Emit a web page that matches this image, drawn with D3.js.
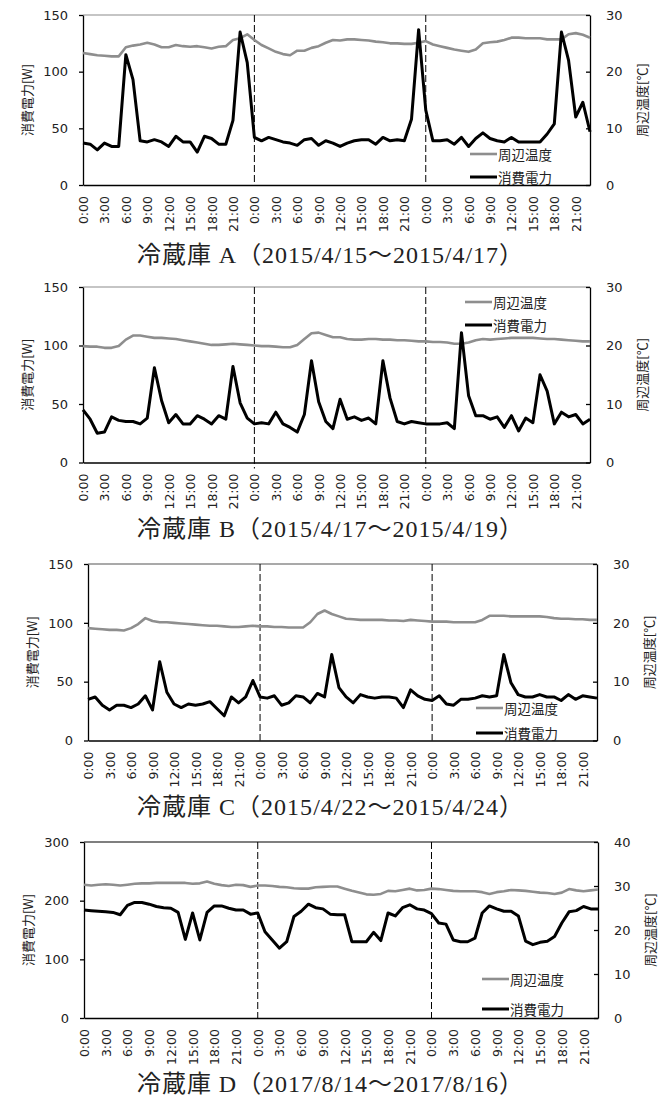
<!DOCTYPE html>
<html>
<head>
<meta charset="utf-8">
<script src="https://cdn.jsdelivr.net/npm/d3@7"></script>
<style>
  body { margin: 0; background: #fff; }
  text { fill: #222; }
</style>
</head>
<body>
<div id="chart-area"></div>
<script>
// hour labels for one day (every 3 h), 3 days per panel
const tickLabels = ['0:00','3:00','6:00','9:00','12:00','15:00','18:00','21:00']
const seriesNames = ['周辺温度','消費電力']

// 冷蔵庫A 2015/4/15-4/17
const powerA = [37,36,31,37,34,34,115,93,39,38,40,38,34,43,38,38,29,43,41,36,36,57,135,108,
  42,39,42,40,38,37,35,40,41,35,39,37,34,37,39,40,40,36,42,39,40,39,58,137,
  66,39,39,40,36,42,34,41,46,41,39,38,42,38,38,38,38,45,54,135,110,60,73,47]
const tempA = [23.3,23.1,22.9,22.8,22.7,22.7,24.3,24.6,24.8,25.1,24.8,24.3,24.3,24.7,24.5,24.4,24.5,24.3,24.1,24.4,24.5,25.6,25.9,26.6,
  25.6,24.7,24.1,23.5,23.1,22.9,23.7,23.7,24.2,24.5,25.1,25.6,25.5,25.7,25.7,25.6,25.5,25.3,25.2,25.0,25.0,24.9,24.9,25.1,
  25.4,24.8,24.5,24.2,23.9,23.7,23.5,23.9,25.0,25.2,25.3,25.6,26.0,26.0,25.9,25.9,25.9,25.7,25.7,25.7,26.6,26.8,26.5,26.0]

// 冷蔵庫B 2015/4/17-4/19
const powerB = [45,37,25,26,39,36,35,35,33,38,81,53,34,41,33,33,40,37,33,40,37,82,51,38,
  33,34,33,43,33,30,26,41,87,52,35,29,54,37,39,36,38,33,87,55,35,33,35,34,
  33,33,33,34,29,111,57,40,40,37,39,30,40,27,38,34,75,61,33,43,39,41,33,37]
const tempB = [19.9,19.8,19.8,19.6,19.6,19.9,21.0,21.7,21.7,21.5,21.3,21.3,21.2,21.1,20.9,20.7,20.5,20.3,20.1,20.1,20.2,20.3,20.2,20.1,
  20.0,19.9,19.9,19.8,19.7,19.7,20.1,21.1,22.1,22.2,21.8,21.4,21.4,21.1,21.0,21.0,21.1,21.1,21.0,21.0,20.9,20.9,20.8,20.7,
  20.7,20.6,20.6,20.5,20.3,20.3,20.5,20.9,21.1,21.0,21.1,21.2,21.3,21.3,21.3,21.3,21.2,21.1,21.1,21.0,20.9,20.8,20.7,20.7]

// 冷蔵庫C 2015/4/22-4/24
const powerC = [35,37,30,26,30,30,28,31,38,26,67,41,31,28,31,30,31,33,27,21,37,32,37,51,
  37,36,38,30,32,38,37,32,40,37,73,45,37,32,39,37,36,37,37,36,28,43,38,35,
  34,38,31,30,35,35,36,38,37,38,73,49,39,37,37,39,37,37,34,39,35,38,37,36]
const tempC = [19.1,19.0,18.9,18.8,18.8,18.7,19.1,19.8,20.8,20.3,20.1,20.1,20.0,19.9,19.8,19.7,19.6,19.5,19.5,19.4,19.3,19.3,19.4,19.5,
  19.4,19.4,19.3,19.3,19.2,19.2,19.2,20.1,21.5,22.1,21.5,21.1,20.7,20.6,20.5,20.5,20.5,20.5,20.4,20.4,20.3,20.5,20.4,20.3,
  20.2,20.2,20.2,20.1,20.1,20.1,20.1,20.5,21.2,21.2,21.2,21.1,21.1,21.1,21.1,21.1,21.0,20.8,20.7,20.7,20.6,20.6,20.5,20.5]

// 冷蔵庫D 2017/8/14-8/16
const powerD = [184,183,182,181,180,176,192,197,197,194,190,188,187,180,134,179,133,180,191,191,187,184,184,177,
  179,147,133,119,130,173,182,194,188,186,177,176,176,130,130,130,146,132,179,174,188,193,186,184,
  178,162,160,133,130,130,136,179,191,186,182,182,174,131,125,129,131,139,162,181,183,190,186,186]
const tempD = [30.3,30.1,30.3,30.4,30.3,30.1,30.3,30.5,30.6,30.6,30.7,30.7,30.7,30.7,30.7,30.5,30.6,31.0,30.5,30.2,30.0,30.3,30.2,29.8,
  30.1,30.1,30.0,29.8,29.7,29.5,29.4,29.4,29.7,29.8,29.9,29.9,29.4,28.9,28.5,28.1,28.0,28.2,28.9,28.8,29.1,29.4,29.0,29.1,
  29.4,29.3,29.1,28.9,28.8,28.8,28.8,28.6,28.2,28.6,28.8,29.1,29.0,28.9,28.7,28.5,28.4,28.2,28.5,29.3,29.0,28.8,29.0,29.2]

const titles = ['冷蔵庫 A（2015/4/15～2015/4/17）','冷蔵庫 B（2015/4/17～2015/4/19）',
  '冷蔵庫 C（2015/4/22～2015/4/24）','冷蔵庫 D（2017/8/14～2017/8/16）']
const powerMax = [150,150,150,300]
const tempMax = [30,30,30,40]
const powerTicks = [[0,50,100,150],[0,50,100,150],[0,50,100,150],[0,100,200,300]]
const tempTicks = [[0,10,20,30],[0,10,20,30],[0,10,20,30],[0,10,20,30,40]]

const panels = [
  {power:powerA, temp:tempA, L:83, R:590, T:15, B:185, titleY:255, legX:470, legY:[154,177], topColor:'#8c8c8c', dashExt:0},
  {power:powerB, temp:tempB, L:83, R:590, T:287, B:462.5, titleY:529, legX:465, legY:[302,325], topColor:'#8c8c8c', dashExt:6},
  {power:powerC, temp:tempC, L:88, R:597, T:564, B:740.5, titleY:807, legX:476, legY:[708,733], topColor:'#555', dashExt:0},
  {power:powerD, temp:tempD, L:84, R:598, T:842, B:1018, titleY:1084, legX:482, legY:[979,1009], topColor:'#000', dashExt:0}
]

const GRAY = '#8e8e8e'
const FONT_NUM = "'DejaVu Sans', sans-serif"
const FONT_JP = "'Noto Sans CJK JP', sans-serif"

const svg = d3.select('#chart-area')
.append('svg')
.attr('width',670)
.attr('height',1097)

panels.forEach((p,k) => {
  const g = svg.append('g')

  const x = d3.scaleLinear()
  .domain([0,p.power.length-1])
  .range([p.L,p.R])

  const yL = d3.scaleLinear()
  .domain([0,powerMax[k]])
  .range([p.B,p.T])

  const yR = d3.scaleLinear()
  .domain([0,tempMax[k]])
  .range([p.B,p.T])

  // top border
  g.append('line')
  .attr('x1',p.L).attr('x2',p.R)
  .attr('y1',p.T).attr('y2',p.T)
  .attr('stroke',p.topColor)
  .attr('stroke-width',1.2)

  // day separators
  ;[24,48].forEach(i => {
    g.append('line')
    .attr('x1',x(i)).attr('x2',x(i))
    .attr('y1',p.T).attr('y2',p.B+p.dashExt)
    .attr('stroke','#000')
    .attr('stroke-width',1)
    .attr('stroke-dasharray','7,3')
  })

  const xAxisCall = d3.axisBottom(x)
  .tickValues(d3.range(0,p.power.length,3))
  .tickFormat(i => tickLabels[(i/3) % tickLabels.length])
  .tickSize(0)
  g.append('g')
  .attr('transform',`translate(0,${p.B})`)
  .call(xAxisCall)
  .call(a => a.select('.domain').attr('stroke','#000').attr('stroke-width',1.5))
  .selectAll('text')
  .attr('font-family',FONT_NUM)
  .attr('font-size','12.5px')
  .attr('x',-11)
  .attr('y',0)
  .attr('dy','0.36em')
  .attr('text-anchor','end')
  .attr('transform','rotate(-90)')

  const yAxisCall = d3.axisLeft(yL)
  .tickValues(powerTicks[k])
  .tickSizeInner(4)
  .tickSizeOuter(0)
  .tickPadding(11)
  g.append('g')
  .attr('transform',`translate(${p.L},0)`)
  .call(yAxisCall)
  .call(a => a.selectAll('line,path').attr('stroke','#000').attr('stroke-width',1.3))
  .selectAll('text')
  .attr('font-family',FONT_NUM)
  .attr('font-size','13px')

  const y2AxisCall = d3.axisRight(yR)
  .tickValues(tempTicks[k])
  .tickSizeInner(-4)
  .tickSizeOuter(0)
  .tickPadding(16)
  g.append('g')
  .attr('transform',`translate(${p.R},0)`)
  .call(y2AxisCall)
  .call(a => a.selectAll('line,path').attr('stroke','#000').attr('stroke-width',1.3))
  .selectAll('text')
  .attr('font-family',FONT_NUM)
  .attr('font-size','13px')

  // axis titles
  g.append('text')
  .attr('transform',`translate(${p.L-57},${(p.T+p.B)/2}) rotate(-90)`)
  .attr('text-anchor','middle')
  .attr('dominant-baseline','central')
  .attr('font-family',FONT_JP)
  .attr('font-size','13px')
  .text('消費電力[W]')

  g.append('text')
  .attr('transform',`translate(${p.R+51},${(p.T+p.B)/2}) rotate(-90)`)
  .attr('text-anchor','middle')
  .attr('dominant-baseline','central')
  .attr('font-family',FONT_JP)
  .attr('font-size','13px')
  .text('周辺温度[℃]')

  const tempLine = d3.line()
  .x((d,i) => x(i))
  .y(d => yR(d))
  const powerLine = d3.line()
  .x((d,i) => x(i))
  .y(d => yL(d))

  g.append('path')
  .datum(p.temp)
  .attr('d',tempLine)
  .attr('fill','none')
  .attr('stroke',GRAY)
  .attr('stroke-width',2.6)
  .attr('stroke-linejoin','round')

  g.append('path')
  .datum(p.power)
  .attr('d',powerLine)
  .attr('fill','none')
  .attr('stroke','#000')
  .attr('stroke-width',3)
  .attr('stroke-linejoin','round')

  // legend
  seriesNames.forEach((name,j) => {
    g.append('line')
    .attr('x1',p.legX).attr('x2',p.legX+27)
    .attr('y1',p.legY[j]).attr('y2',p.legY[j])
    .attr('stroke',j === 0 ? GRAY : '#000')
    .attr('stroke-width',j === 0 ? 2.6 : 3)
    g.append('text')
    .attr('x',p.legX+28)
    .attr('y',p.legY[j])
    .attr('dominant-baseline','central')
    .attr('font-family',FONT_JP)
    .attr('font-size','13.5px')
    .text(name)
  })

  // panel title
  g.append('text')
  .attr('x',330)
  .attr('y',p.titleY)
  .attr('text-anchor','middle')
  .attr('dominant-baseline','central')
  .attr('font-family',"'Liberation Serif', 'Noto Sans CJK JP', serif")
  .attr('font-size','24px')
  .attr('textLength',386)
  .attr('lengthAdjust','spacing')
  .text(titles[k])
})
</script>
</body>
</html>
